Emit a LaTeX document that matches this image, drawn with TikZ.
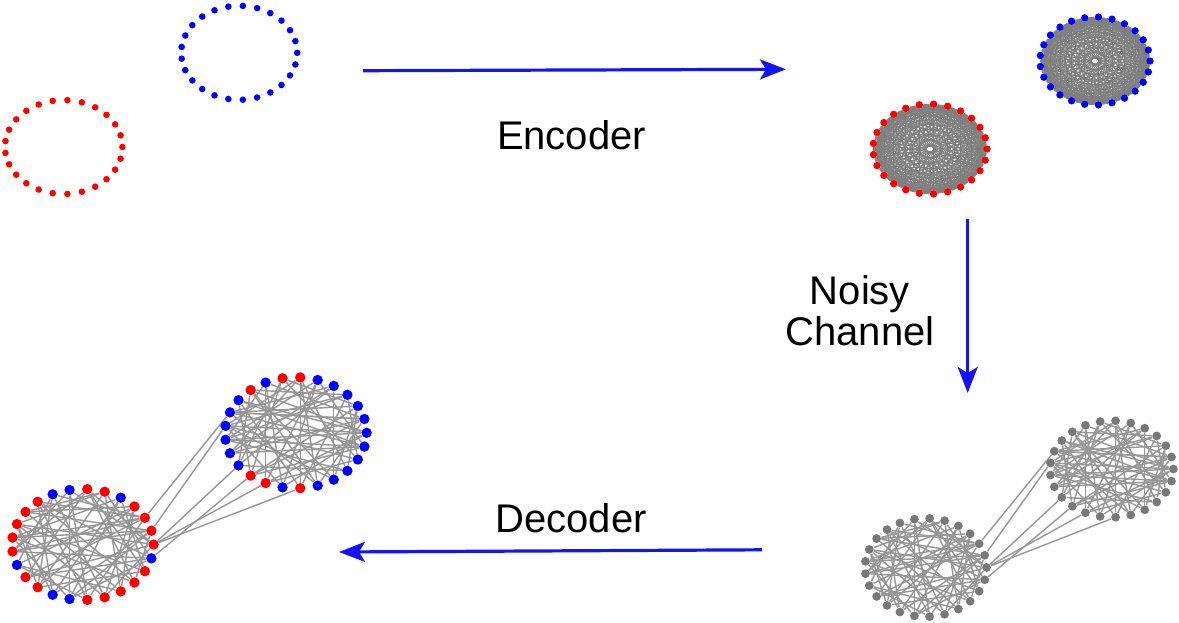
\documentclass[tikz,border=0pt]{standalone}
\usepackage{fontspec}
\setmainfont{Liberation Sans}
\usetikzlibrary{arrows.meta,backgrounds}
\definecolor{dred}{RGB}{255,0,0}
\definecolor{dblue}{RGB}{0,0,255}
\definecolor{arrowblue}{RGB}{20,20,245}
\definecolor{edgegray}{RGB}{150,150,150}
\definecolor{densegray}{RGB}{125,125,125}
\definecolor{nodegray}{RGB}{120,120,120}

\newcommand\myUedges[1]{%
  \foreach \a/\b in {0/9,0/13,0/17,1/8,1/14,1/20,2/11,2/16,2/22,3/12,3/19,3/9,4/15,4/21,4/11,5/13,5/18,5/24,6/14,6/20,6/12,7/16,7/23,7/2,8/17,8/13,9/21,9/15,10/19,10/0,10/24,11/20,11/1,12/23,12/18,13/22,13/3,14/24,14/4,15/22,15/7,16/1,16/10,17/5,17/23,18/8,18/0,19/6,20/9,21/2,21/12,22/6,23/3,24/11,24/16,0/12,1/11,24/13}
    {\draw[graphedge] (#1-\a) -- (#1-\b);}}
\newcommand\myLedges[1]{%
  \foreach \a/\b in {0/11,0/15,0/6,1/10,1/17,1/22,2/13,2/19,2/8,3/14,3/20,3/10,4/12,4/18,4/23,5/16,5/21,5/11,6/15,6/22,7/18,7/13,7/0,8/20,8/16,9/19,9/24,9/2,10/21,10/5,11/23,11/17,12/22,12/1,13/24,13/6,14/21,14/8,15/2,15/24,16/3,16/11,17/9,17/4,18/12,18/1,19/7,19/14,20/11,20/0,21/3,22/9,23/16,23/6,24/5,24/18,1/13,2/12}
    {\draw[graphedge] (#1-\a) -- (#1-\b);}}
\newcommand\myXedges[2]{%
  \foreach \a/\b in {11/2,12/1,15/0,16/24,17/0,19/0}
    {\draw[graphedge] (#1-\a) -- (#2-\b);}}
\newcommand\myComplete[1]{%
  \foreach \i in {0,...,23}{%
    \pgfmathtruncatemacro\myjs{\i+1}%
    \foreach \j in {\myjs,...,24}{\draw[denseedge] (#1-\i) -- (#1-\j);}}}

\begin{document}
\begin{tikzpicture}[x=0.5pt,y=-0.5pt,
  smalldot/.style={circle,inner sep=0pt,minimum size=3.3pt,draw=none},
  middot/.style={circle,inner sep=0pt,minimum size=3.7pt,draw=none},
  bigdot/.style={circle,inner sep=0pt,minimum size=5.2pt,draw=none},
  graydot/.style={circle,inner sep=0pt,minimum size=4.4pt,draw=none,fill=nodegray},
  graphedge/.style={draw=edgegray,line width=0.7pt},
  denseedge/.style={draw=densegray,line width=0.36pt},
  bigarrow/.style={draw=arrowblue,line width=1.6pt,-{Stealth[length=13pt,width=10pt,inset=3pt]}},
  lbl/.style={font=\fontsize{20}{20.7}\selectfont,inner sep=0pt}]
\useasboundingbox (0,0) rectangle (1179,622);

% --- input rings (top left)
\foreach \k in {0,...,24}
  \node[smalldot,fill=dred] (tr-\k) at ({63.7+58.7*cos(\k*14.4)},{147-47*sin(\k*14.4)}) {};
\foreach \k in {0,...,24}
  \node[smalldot,fill=dblue] (tb-\k) at ({239.2+58*cos(\k*14.4)},{52.8-47*sin(\k*14.4)}) {};

% --- encoded discs (top right)
\foreach \k in {0,...,24}
  \node[middot,fill=dblue] (eb-\k) at ({1095+55*cos(\k*14.4)},{61-44*sin(\k*14.4)}) {};
\foreach \k in {0,...,24}
  \node[middot,fill=dred] (er-\k) at ({930+57*cos(\k*14.4)},{149-45*sin(\k*14.4)}) {};
\begin{scope}[on background layer]
  \myComplete{eb}
  \myComplete{er}
\end{scope}

% --- noisy graph (bottom right)
\foreach \k in {0,...,24}
  \node[graydot] (nu-\k) at ({1111.7+61.7*cos(\k*14.4)},{469-48.3*sin(\k*14.4)}) {};
\foreach \k in {0,...,24}
  \node[graydot] (nl-\k) at ({925.8+60.8*cos(\k*14.4)},{567.5-49.2*sin(\k*14.4)}) {};
\begin{scope}[on background layer]
  \myUedges{nu}
  \myLedges{nl}
  \myXedges{nu}{nl}
\end{scope}

% --- decoded graph (bottom left)
\foreach \k/\c in {0/dblue,1/dblue,2/dblue,3/dblue,4/dblue,5/dblue,6/dred,7/dred,8/dblue,9/dred,10/dblue,11/dblue,12/dblue,13/dblue,14/dblue,15/dblue,16/dred,17/dred,18/dblue,19/dred,20/dblue,21/dblue,22/dblue,23/dblue,24/dblue}
  \node[bigdot,fill=\c] (du-\k) at ({295.8+70.8*cos(\k*14.4)},{432.8-55.5*sin(\k*14.4)}) {};
\foreach \k/\c in {0/dred,1/dred,2/dred,3/dred,4/dblue,5/dred,6/dred,7/dblue,8/dblue,9/dred,10/dred,11/dred,12/dred,13/dred,14/dblue,15/dred,16/dred,17/dblue,18/dblue,19/dred,20/dred,21/dred,22/dred,23/dred,24/dblue}
  \node[bigdot,fill=\c] (dl-\k) at ({82.8+70.8*cos(\k*14.4)},{544.5-55.5*sin(\k*14.4)}) {};
\begin{scope}[on background layer]
  \myUedges{du}
  \myLedges{dl}
  \myXedges{du}{dl}
\end{scope}

% --- arrows
\coordinate (encS) at (363,70.7);
\coordinate (encE) at (786,69.3);
\coordinate (chS) at (967.7,219);
\coordinate (chE) at (967.7,393);
\coordinate (decS) at (762,549.8);
\coordinate (decE) at (339,552);
\draw[bigarrow] (encS) -- (encE);
\draw[bigarrow] (chS) -- (chE);
\draw[bigarrow] (decS) -- (decE);

% --- labels
\node[lbl,anchor=base] (enc) at (571.5,149) {Encoder};
\node[lbl,anchor=north,align=center] (noisy) at (860,275) {Noisy\\Channel};
\node[lbl,anchor=base] (dec) at (571,532.3) {Decoder};
\end{tikzpicture}
\end{document}
